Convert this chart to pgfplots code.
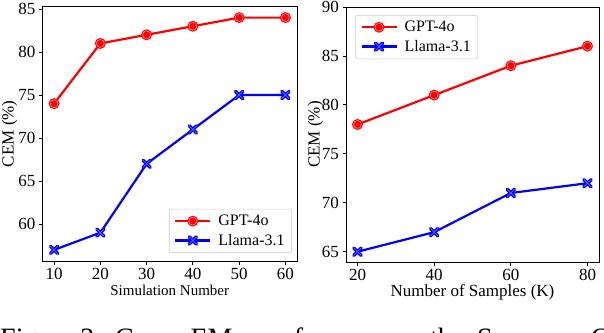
\documentclass[border=0pt]{standalone}
\usepackage{fontspec}
\setmainfont{Liberation Serif}
\usepackage{pgfplots}
\pgfplotsset{compat=1.18}

\pgfdeclareplotmark{redO}{%
  \pgfpathcircle{\pgfpointorigin}{\pgfplotmarksize}%
  \pgfsetfillcolor{red}\pgfusepathqfill
  \pgfsetstrokecolor{white!55!red}\pgfsetlinewidth{0.6pt}%
  \pgfpathcircle{\pgfpointorigin}{0.72\pgfplotmarksize}%
  \pgfusepathqstroke
}
\pgfdeclareplotmark{blueX}{%
  \pgfsetroundcap
  \pgfsetlinewidth{3.4pt}\pgfsetstrokecolor{blue}%
  \pgfpathmoveto{\pgfqpoint{-\pgfplotmarksize}{-\pgfplotmarksize}}%
  \pgfpathlineto{\pgfqpoint{\pgfplotmarksize}{\pgfplotmarksize}}%
  \pgfpathmoveto{\pgfqpoint{-\pgfplotmarksize}{\pgfplotmarksize}}%
  \pgfpathlineto{\pgfqpoint{\pgfplotmarksize}{-\pgfplotmarksize}}%
  \pgfusepathqstroke
  \pgfsetlinewidth{0.7pt}\pgfsetstrokecolor{white!40!blue}%
  \pgfpathmoveto{\pgfqpoint{-\pgfplotmarksize}{-\pgfplotmarksize}}%
  \pgfpathlineto{\pgfqpoint{\pgfplotmarksize}{\pgfplotmarksize}}%
  \pgfpathmoveto{\pgfqpoint{-\pgfplotmarksize}{\pgfplotmarksize}}%
  \pgfpathlineto{\pgfqpoint{\pgfplotmarksize}{-\pgfplotmarksize}}%
  \pgfusepathqstroke
}

\pgfplotsset{
  cemax/.style={
    scale only axis,
    axis line style={black, line width=0.8pt},
    tick align=outside, major tick length=3.5pt,
    tick style={black, line width=0.8pt},
    xtick pos=bottom, ytick pos=left,
    tick label style={font=\fontsize{17}{20}\selectfont},
    /pgf/number format/assume math mode=true,
    label style={font=\fontsize{17}{20}\selectfont, inner sep=0pt},
    ylabel={CEM (\%)},
    legend cell align=left,
    legend style={font=\fontsize{16}{19}\selectfont, draw=black!20, rounded corners=2.5pt,
      line width=0.6pt, inner xsep=5pt, inner ysep=4pt, row sep=3pt, column sep=5pt},
    legend image code/.code={%
      \draw[mark repeat=2, mark phase=2] plot coordinates {(0pt,0pt) (17.5pt,0pt) (35pt,0pt)};},
  },
  gpt/.style={red, line width=2.2pt, mark=redO, mark size=5.5pt},
  llama/.style={blue, line width=2.2pt, mark=blueX, mark size=3.6pt},
}

\begin{document}
\begin{tikzpicture}
\useasboundingbox (0,0) rectangle (604pt,332pt);
\clip (0,0) rectangle (604pt,332pt);

\begin{axis}[cemax,
  at={(42.5pt,70.5pt)}, anchor=south west,
  width=254.5pt, height=255.5pt,
  xmin=7.5, xmax=62.5, xtick={10,20,30,40,50,60},
  ymin=55.65, ymax=85.35, ytick={60,65,70,75,80,85},
  xlabel={Simulation Number},
  xlabel style={font=\fontsize{15}{18}\selectfont, at={(axis description cs:0.5,-0.114)}, anchor=center},
  ylabel style={at={(axis description cs:-0.13,0.5)}, anchor=center},
  legend style={at={(0.98,0.033)}, anchor=south east},
]
\addplot[gpt] coordinates {(10,74) (20,81) (30,82) (40,83) (50,84) (60,84)};
\addlegendentry{GPT-4o}
\addplot[llama] coordinates {(10,57) (20,59) (30,67) (40,71) (50,75) (60,75)};
\addlegendentry{Llama-3.1}
\end{axis}

\begin{axis}[cemax,
  at={(346pt,70pt)}, anchor=south west,
  width=253pt, height=255pt,
  xmin=17, xmax=83, xtick={20,40,60,80},
  ymin=63.95, ymax=90, ytick={65,70,75,80,85,90},
  xlabel={Number of Samples (K)},
  xlabel style={at={(axis description cs:0.5,-0.118)}, anchor=center},
  ylabel style={at={(axis description cs:-0.12,0.5)}, anchor=center},
  legend style={at={(0.036,0.969)}, anchor=north west},
]
\addplot[gpt] coordinates {(20,78) (40,81) (60,84) (80,86)};
\addlegendentry{GPT-4o}
\addplot[llama] coordinates {(20,65) (40,67) (60,71) (80,72)};
\addlegendentry{Llama-3.1}
\end{axis}

\begin{scope}[every node/.style={anchor=base west, inner sep=0pt, font=\fontsize{28}{32}\selectfont}]
\node at (0pt,-15.5pt) {Figure 2:};
\node at (115pt,-15.5pt) {Cover EM};
\node at (258pt,-15.5pt) {performance vs.};
\node at (430pt,-15.5pt) {the};
\node at (477pt,-15.5pt) {Source};
\node at (591pt,-15.5pt) {QA};
\end{scope}
\end{tikzpicture}
\end{document}
